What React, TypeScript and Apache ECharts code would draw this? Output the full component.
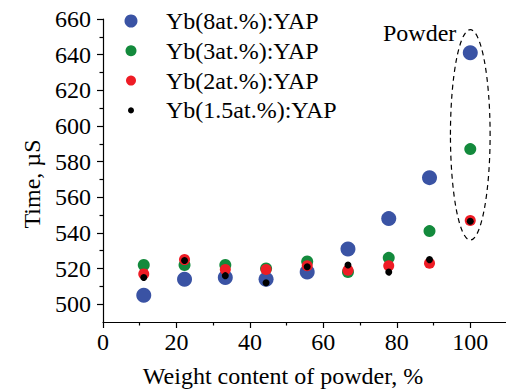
import React, { useEffect, useRef } from 'react';
import * as echarts from 'echarts';

const xValues = [11.1, 22.2, 33.3, 44.4, 55.6, 66.7, 77.8, 88.9, 100];
const yb8 = [505, 514, 515, 514, 518, 531, 548, 571, 641];
const yb3 = [522, 522, 522, 520, 524, 518, 526, 541, 587];
const yb2 = [517, 525, 519.5, 519.5, 521.5, 519, 521.5, 523, 547];
const yb15 = [515, 524.5, 516, 512, 521, 522, 518, 525, 546.5];
const seriesNames = ['Yb(8at.%):YAP', 'Yb(3at.%):YAP', 'Yb(2at.%):YAP', 'Yb(1.5at.%):YAP'];
const seriesValues = [yb8, yb3, yb2, yb15];
const colors = ['#3a53a4', '#138a3c', '#ee1c25', '#000000'];
const symbolSizes = [15, 12, 11, 7];
const legendSizes = [13, 11, 10, 6];

const yMajorTicks = [500, 520, 540, 560, 580, 600, 620, 640, 660];
const yMinorTicks = [510, 530, 550, 570, 590, 610, 630, 650];
const xMajorTicks = [0, 20, 40, 60, 80, 100];
const xMinorTicks = [10, 30, 50, 70, 90];

// dashed ellipse annotation around the powder points (data units)
const ellipseCenter = [100, 595];
const ellipseSemiAxes = [5.4, 59];

const FONT = "'Liberation Serif', 'Times New Roman', serif";

export default function App() {
  const ref = useRef<HTMLDivElement>(null);
  useEffect(() => {
    if (!ref.current) return;
    const chart = echarts.init(ref.current, null, { renderer: 'svg' });
    const axisLine = { show: true, onZero: false, lineStyle: { color: '#000', width: 1.2 } };
    const tickLine = { color: '#000', width: 1.2 };
    const option: any = {
      animation: false,
      backgroundColor: '#fff',
      grid: { left: 103, top: 19, right: -1, bottom: 68, outerBoundsMode: 'none', containLabel: false },
      xAxis: [
        {
          type: 'value', min: 0, max: 110, position: 'bottom',
          axisLine,
          axisTick: { show: true, customValues: xMajorTicks, length: 6, lineStyle: tickLine },
          axisLabel: { customValues: xMajorTicks, fontSize: 24, color: '#000', fontFamily: FONT, margin: 8 },
          splitLine: { show: false },
        },
        {
          type: 'value', min: 0, max: 110, position: 'bottom',
          axisLine: { show: false },
          axisTick: { show: true, customValues: xMinorTicks, length: 3.5, lineStyle: tickLine },
          axisLabel: { show: false },
          splitLine: { show: false },
        },
      ],
      yAxis: [
        {
          type: 'value', min: 490, max: 660, position: 'left',
          axisLine,
          axisTick: { show: true, customValues: yMajorTicks, length: 6, lineStyle: tickLine },
          axisLabel: { customValues: yMajorTicks, fontSize: 24, color: '#000', fontFamily: FONT, margin: 12 },
          splitLine: { show: false },
        },
        {
          type: 'value', min: 490, max: 660, position: 'left',
          axisLine: { show: false },
          axisTick: { show: true, customValues: yMinorTicks, length: 3.5, lineStyle: tickLine },
          axisLabel: { show: false },
          splitLine: { show: false },
        },
      ],
      legend: seriesNames.map((name, i) => ({
        data: [{ name, icon: 'circle' }],
        left: 131 - legendSizes[i] / 2,
        top: 21 + i * 29.8 - 12,
        padding: 0,
        itemWidth: legendSizes[i],
        itemHeight: legendSizes[i],
        selectedMode: false,
        textStyle: {
          fontSize: 24, fontFamily: FONT, color: '#000',
          padding: [0, 0, 0, 30 - legendSizes[i] / 2],
        },
      })),
      series: seriesNames.map((name, i) => ({
        name,
        type: 'scatter',
        xAxisIndex: 0,
        yAxisIndex: 0,
        symbol: 'circle',
        symbolSize: symbolSizes[i],
        itemStyle: { color: colors[i], opacity: 1 },
        data: xValues.map((x, j) => [x, seriesValues[i][j]]),
        z: 2 + i,
      })),
      graphic: [
        {
          type: 'text', x: 283, y: 376,
          style: { text: 'Weight content of powder, %', fontSize: 24, fontFamily: FONT, fill: '#000', textAlign: 'center', textVerticalAlign: 'middle' },
        },
        {
          type: 'text', x: 32, y: 184, rotation: Math.PI / 2,
          style: { text: 'Time, µS', fontSize: 24, fontFamily: FONT, fill: '#000', textAlign: 'center', textVerticalAlign: 'middle' },
        },
        {
          type: 'text', x: 383, y: 33,
          style: { text: 'Powder', fontSize: 24, fontFamily: FONT, fill: '#000', textAlign: 'left', textVerticalAlign: 'middle' },
        },
      ],
    };
    chart.setOption(option);
    const c = chart.convertToPixel({ gridIndex: 0 }, ellipseCenter) as number[];
    const e = chart.convertToPixel({ gridIndex: 0 }, [ellipseCenter[0] + ellipseSemiAxes[0], ellipseCenter[1] + ellipseSemiAxes[1]]) as number[];
    chart.setOption({
      graphic: [
        ...option.graphic,
        {
          type: 'ellipse',
          shape: { cx: c[0], cy: c[1], rx: Math.abs(e[0] - c[0]), ry: Math.abs(c[1] - e[1]) },
          style: { fill: 'none', stroke: '#000', lineWidth: 1.2, lineDash: [5, 4] },
          z: 1,
        },
      ],
    });
    return () => chart.dispose();
  }, []);
  return <div ref={ref} style={{ position: 'absolute', left: 0, top: 0, width: 506, height: 390 }} />;
}
